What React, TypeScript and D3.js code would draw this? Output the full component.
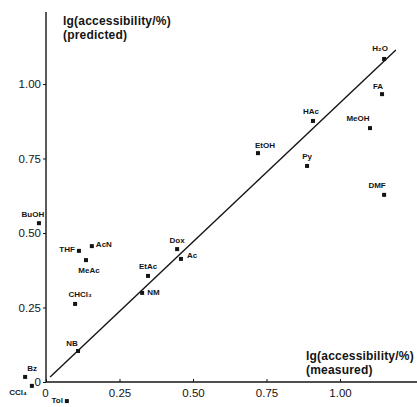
import React, { useEffect, useRef } from "react";
import * as d3 from "d3";

const width = 417;
const height = 407;

// solvent names and lg(accessibility/%) values
const solvents = ["H₂O", "FA", "MeOH", "HAc", "Py", "DMF", "EtOH", "Dox", "Ac", "EtAc", "NM", "BuOH", "THF", "AcN", "MeAc", "CHCl₃", "NB", "Bz", "CCl₄", "Tol"];
const measured = [1.15, 1.143, 1.102, 0.908, 0.888, 1.15, 0.721, 0.446, 0.459, 0.347, 0.327, -0.024, 0.112, 0.156, 0.136, 0.099, 0.109, -0.071, -0.048, 0.071];
const predicted = [1.084, 0.966, 0.852, 0.876, 0.725, 0.628, 0.768, 0.446, 0.413, 0.356, 0.299, 0.533, 0.44, 0.456, 0.409, 0.262, 0.104, 0.017, -0.013, -0.064];

// regression line ends
const fitX = [0.014, 1.19];
const fitY = [0.017, 1.114];

const tickValues = [0, 0.25, 0.5, 0.75, 1];
const tickLabels = ["0", "0.25", "0.50", "0.75", "1.00"];

// label placement around each marker (dx, dy, anchor)
const labelPos: Record<string, [number, number, string]> = {
  "H₂O": [-4, -10, "middle"],
  FA: [-4, -8, "middle"],
  MeOH: [-12, -10, "middle"],
  HAc: [-2, -9, "middle"],
  Py: [0, -9, "middle"],
  DMF: [-7, -9, "middle"],
  EtOH: [7, -8, "middle"],
  Dox: [0, -9, "middle"],
  Ac: [6, -3, "start"],
  EtAc: [0, -9, "middle"],
  NM: [5, 0, "start"],
  BuOH: [-6, -9, "middle"],
  THF: [-4, -1, "end"],
  AcN: [4, -2, "start"],
  MeAc: [3, 10, "middle"],
  "CHCl₃": [5, -9, "middle"],
  NB: [-6, -8, "middle"],
  Bz: [7, -8, "middle"],
  "CCl₄": [-5, 7, "end"],
  Tol: [-4, -1, "end"],
};

const ink = "#141414";
const font = "'Liberation Sans', Arial, sans-serif";

const App = () => {
  const ref = useRef<SVGSVGElement>(null);

  useEffect(() => {
    const svg = d3.select(ref.current);
    svg.selectAll("*").remove();

    const x = d3.scaleLinear().domain([0, 1]).range([46, 340]);
    const y = d3.scaleLinear().domain([0, 1]).range([382, 84]);

    const data = solvents.map((name, i) => ({ name, mx: measured[i], pr: predicted[i] }));

    // axes
    const yAxis = d3
      .axisLeft(y)
      .tickValues(tickValues)
      .tickFormat((_, i) => tickLabels[i])
      .tickSize(3)
      .tickPadding(2);
    svg
      .append("g")
      .attr("transform", `translate(${x(0)},0)`)
      .call(yAxis)
      .call((g) => g.select(".domain").remove())
      .call((g) => g.selectAll("text").attr("font-size", 11.5).attr("font-family", font).attr("fill", ink))
      .call((g) => g.selectAll("line").attr("stroke", ink));

    const xAxis = d3
      .axisBottom(x)
      .tickValues(tickValues)
      .tickFormat((_, i) => tickLabels[i])
      .tickSize(-3)
      .tickPadding(7);
    svg
      .append("g")
      .attr("transform", `translate(0,${y(0)})`)
      .call(xAxis)
      .call((g) => g.select(".domain").remove())
      .call((g) => g.selectAll("text").attr("font-size", 11.5).attr("font-family", font).attr("fill", ink))
      .call((g) => g.selectAll(".tick").filter((d) => d === 0).select("text").attr("dx", -1))
      .call((g) => g.selectAll("line").attr("stroke", ink));

    svg
      .append("line")
      .attr("x1", x(0))
      .attr("x2", x(0))
      .attr("y1", y(0))
      .attr("y2", 12)
      .attr("stroke", ink)
      .attr("stroke-width", 1.4);
    svg
      .append("line")
      .attr("x1", x(0))
      .attr("x2", width)
      .attr("y1", y(0))
      .attr("y2", y(0))
      .attr("stroke", ink)
      .attr("stroke-width", 1.4);

    // axis titles
    const title = (tx: number, ty: number, lines: string[]) => {
      const t = svg
        .append("text")
        .attr("x", tx)
        .attr("y", ty)
        .attr("font-size", 12)
        .attr("font-weight", "bold")
        .attr("letter-spacing", 0.2)
        .attr("font-family", font)
        .attr("fill", ink);
      lines.forEach((s, i) => t.append("tspan").attr("x", tx).attr("dy", i === 0 ? 0 : 14).text(s));
    };
    title(63, 25, ["lg(accessibility/%)", "(predicted)"]);
    title(306, 360, ["lg(accessibility/%)", "(measured)"]);

    // fit line
    svg
      .append("path")
      .attr("d", d3.line()(fitX.map((v, i) => [x(v), y(fitY[i])])))
      .attr("stroke", ink)
      .attr("stroke-width", 1.4)
      .attr("fill", "none");

    // markers
    svg
      .append("g")
      .selectAll("rect")
      .data(data)
      .join("rect")
      .attr("x", (d) => x(d.mx) - 2)
      .attr("y", (d) => y(d.pr) - 2)
      .attr("width", 4)
      .attr("height", 4)
      .attr("fill", ink);

    svg
      .append("g")
      .selectAll("text")
      .data(data)
      .join("text")
      .attr("x", (d) => x(d.mx) + labelPos[d.name][0])
      .attr("y", (d) => y(d.pr) + labelPos[d.name][1])
      .attr("text-anchor", (d) => labelPos[d.name][2])
      .attr("dominant-baseline", "central")
      .attr("font-size", 8)
      .attr("font-weight", "bold")
      .attr("font-family", font)
      .attr("fill", ink)
      .text((d) => d.name);
  }, []);

  return (
    <svg
      ref={ref}
      width={width}
      height={height}
      style={{ position: "absolute", left: 0, top: 0, background: "#fff" }}
    />
  );
};

export default App;
